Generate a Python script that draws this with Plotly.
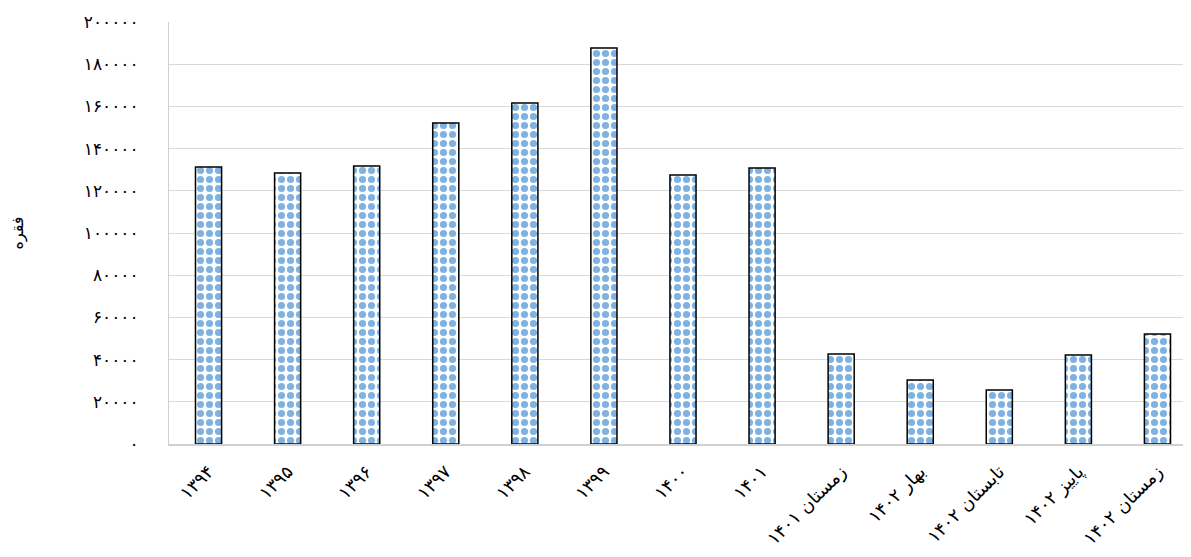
import plotly.graph_objects as go

categories = [
    "۱۳۹۴", "۱۳۹۵", "۱۳۹۶", "۱۳۹۷", "۱۳۹۸", "۱۳۹۹", "۱۴۰۰", "۱۴۰۱",
    "زمستان ۱۴۰۱", "بهار ۱۴۰۲", "تابستان ۱۴۰۲", "پاییز ۱۴۰۲", "زمستان ۱۴۰۲",
]
values = [
    131300, 128400, 131800, 152100, 161600, 187700, 127500, 130800,
    42700, 30300, 25600, 42200, 52100,
]
y_tickvals = [0, 20000, 40000, 60000, 80000, 100000, 120000, 140000, 160000, 180000, 200000]
y_ticktext = ["۰", "۲۰۰۰۰", "۴۰۰۰۰", "۶۰۰۰۰", "۸۰۰۰۰", "۱۰۰۰۰۰",
              "۱۲۰۰۰۰", "۱۴۰۰۰۰", "۱۶۰۰۰۰", "۱۸۰۰۰۰", "۲۰۰۰۰۰"]
y_title = "فقره"

fig = go.Figure()
fig.add_trace(
    go.Bar(
        x=categories,
        y=values,
        width=0.33,
        marker=dict(
            color="white",
            line=dict(color="black", width=1.5),
            pattern=dict(shape=".", fgcolor="#0066C4", bgcolor="white",
                         size=9, solidity=0.5),
        ),
        showlegend=False,
    )
)

# page body has an 8px margin, so the figure is shifted by 8px;
# the plot area runs a little past the right edge of the window, as in the original
fig.update_layout(
    width=1191,
    height=549,
    margin=dict(l=161, r=2, t=14, b=113),
    plot_bgcolor="white",
    paper_bgcolor="white",
    font=dict(family="DejaVu Sans, Noto Sans", color="black"),
    xaxis=dict(
        tickangle=-45,
        tickfont=dict(size=18),
        showline=True,
        linecolor="#d0d0d0",
        linewidth=2,
        ticks="outside",
        ticklen=8,
        tickcolor="white",
        automargin=False,
    ),
    yaxis=dict(
        range=[0, 200000],
        tickvals=y_tickvals,
        ticktext=y_ticktext,
        tickfont=dict(size=17),
        showgrid=True,
        gridcolor="#d9d9d9",
        showline=True,
        linecolor="#d0d0d0",
        linewidth=1,
        ticks="outside",
        ticklen=26,
        tickcolor="white",
        title=dict(text=y_title, font=dict(size=16), standoff=58),
        zeroline=False,
        automargin=False,
    ),
)

fig.write_html("out.html")
